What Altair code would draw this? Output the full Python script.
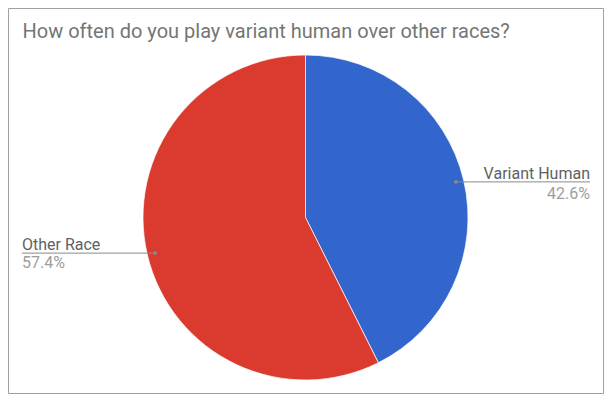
import altair as alt
import pandas as pd

categories = ["Variant Human", "Other Race"]
values = [42.6, 57.4]
colors = ["#3366CC", "#DB3B2F"]
title_text = "How often do you play variant human over other races?"

df = pd.DataFrame({"category": categories, "value": values, "idx": list(range(len(categories)))})

W, H = 596, 386
CX, CY, R = 297.5, 209.5, 162.5
RL = 154.6
LEFT_X, RIGHT_X = 14, 582

base = alt.Chart(df)

frame = alt.Chart(pd.DataFrame({"t": [title_text]})).mark_rect(
    fill=None, stroke="#a0a0a0", strokeWidth=1
).encode(x=alt.value(0.5), x2=alt.value(W - 0.5), y=alt.value(0.5), y2=alt.value(H - 0.5))

title = alt.Chart(pd.DataFrame({"t": [title_text]})).mark_text(
    font="Roboto", fontSize=20, color="#757575", align="left", baseline="alphabetic"
).encode(x=alt.value(14.5), y=alt.value(30), text="t:N")

pie = base.mark_arc(outerRadius=R, stroke="white", strokeWidth=0.7).encode(
    theta=alt.Theta("value:Q", stack=True),
    color=alt.Color("category:N", scale=alt.Scale(domain=categories, range=colors), legend=None),
    order=alt.Order("idx:Q"),
    x=alt.value(CX),
    y=alt.value(CY),
)

lab = base.transform_joinaggregate(total="sum(value)").transform_window(
    cum="sum(value)", sort=[alt.SortField("idx")], frame=[None, 0]
).transform_calculate(
    mid="(datum.cum - datum.value/2) / datum.total * 2 * PI",
    pct="format(datum.value, '.1f') + '%'",
).transform_calculate(
    px=f"{CX} + {RL} * sin(datum.mid)",
    py=f"{CY} - {RL} * cos(datum.mid)",
).transform_calculate(
    ex=f"datum.px > {CX} ? {RIGHT_X} : {LEFT_X}",
    right="datum.px > " + str(CX),
)

rule = lab.mark_rule(color="#8a8a8a", strokeWidth=1).encode(
    x=alt.X("px:Q", scale=None), x2="ex:Q", y=alt.Y("py:Q", scale=None)
)
dot = lab.mark_circle(color="#8a8a8a", size=14, opacity=1).encode(
    x=alt.X("px:Q", scale=None), y=alt.Y("py:Q", scale=None)
)

def texts(field, color, dy, align):
    return lab.transform_filter(
        "datum.right" if align == "right" else "!datum.right"
    ).mark_text(
        font="Roboto", fontSize=16, color=color, align=align, baseline="alphabetic", dy=dy
    ).encode(
        x=alt.X("ex:Q", scale=None), y=alt.Y("py:Q", scale=None), text=f"{field}:N"
    )

labels = (
    texts("category", "#616161", -3, "right")
    + texts("pct", "#9e9e9e", 17, "right")
    + texts("category", "#616161", -3, "left")
    + texts("pct", "#9e9e9e", 15, "left")
)

chart = (frame + title + pie + rule + dot + labels).properties(
    width=W,
    height=H,
    padding=0,
    autosize=alt.AutoSizeParams(type="none"),
).configure_view(stroke=None)

chart.save("out.html", embed_options={"renderer": "svg", "actions": False})
